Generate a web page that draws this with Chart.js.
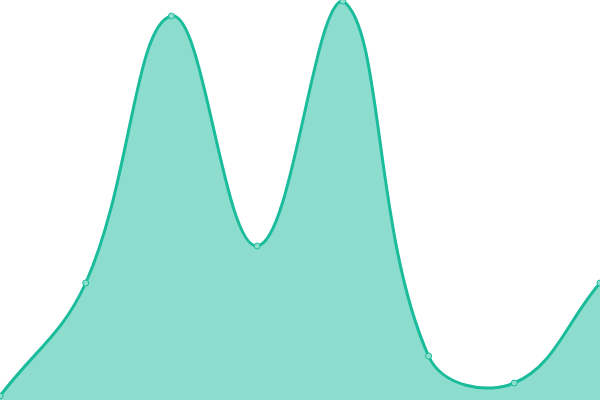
<!DOCTYPE html>
<html><head><meta charset="utf-8">
<script src="https://cdn.jsdelivr.net/npm/chart.js@4"></script>
<style>html,body{margin:0;padding:0;background:#fff}#w{width:600px;height:400px}</style>
</head><body><div id="w"><canvas id="c"></canvas></div>
<script>
const labels = ["A","B","C","D","E","F","G","H"];
const values = [1, 29.25, 96, 38.5, 99.75, 11, 4.25, 29.25];
new Chart(document.getElementById('c'), {
  type: 'line',
  data: { labels: labels, datasets: [{
    data: values,
    fill: 'origin',
    backgroundColor: 'rgba(26,188,156,0.5)',
    borderColor: '#1abc9c',
    borderWidth: 3,
    tension: 0.4,
    pointRadius: 3,
    pointBorderWidth: 1,
    pointBackgroundColor: '#8ddecd',
    pointBorderColor: '#1abc9c'
  }]},
  options: {
    responsive: true, maintainAspectRatio: false, animation: false,
    layout: { padding: 0, autoPadding: false },
    plugins: { legend: { display: false }, tooltip: { enabled: false } },
    scales: {
      x: { display: false, offset: false },
      y: { display: false, min: 0, max: 100 }
    }
  }
});
</script></body></html>
